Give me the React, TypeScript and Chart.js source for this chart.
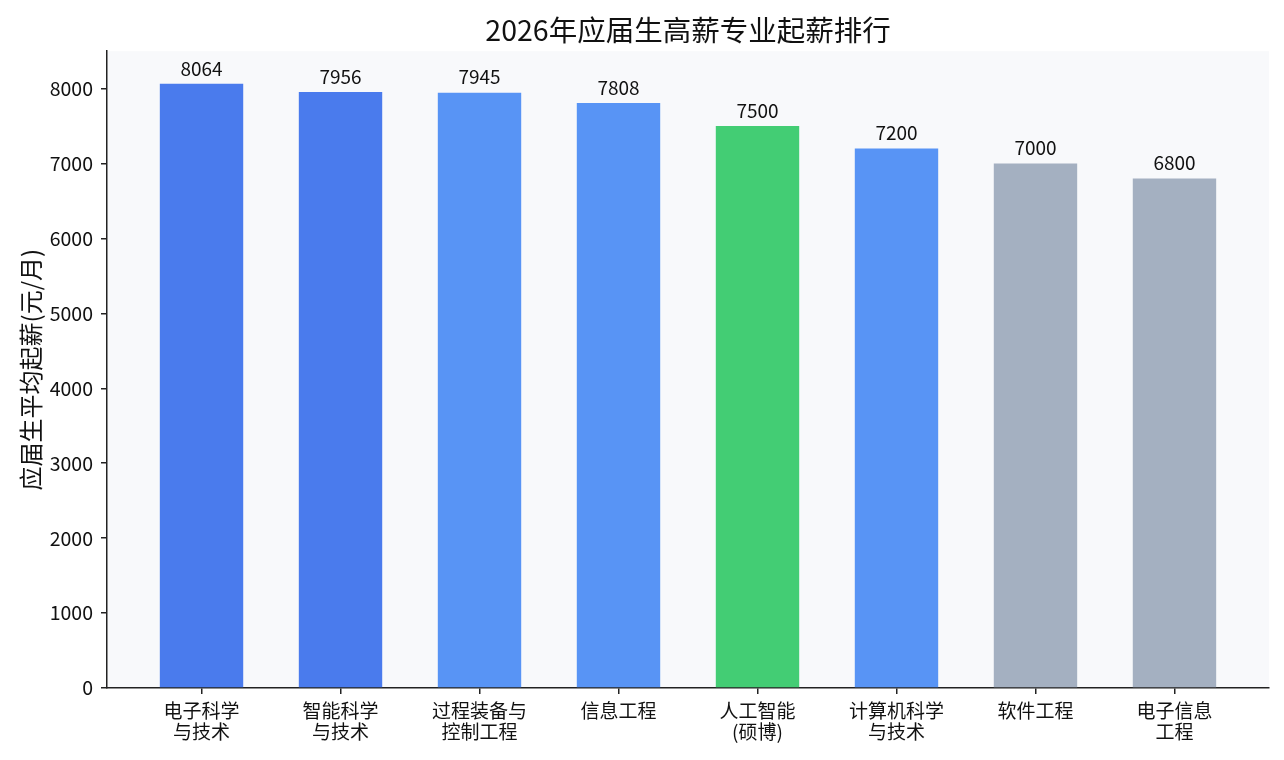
import React, { useEffect, useRef } from "react";
import { Chart, registerables } from "chart.js";

Chart.register(...registerables);

const categories: string[][] = [
  ["电子科学", "与技术"],
  ["智能科学", "与技术"],
  ["过程装备与", "控制工程"],
  ["信息工程"],
  ["人工智能", "(硕博)"],
  ["计算机科学", "与技术"],
  ["软件工程"],
  ["电子信息", "工程"],
];
const salaries: number[] = [8064, 7956, 7945, 7808, 7500, 7200, 7000, 6800];
const barColors: string[] = [
  "#4a7bed",
  "#4a7bed",
  "#5894f5",
  "#5894f5",
  "#43cd74",
  "#5894f5",
  "#a4b0c1",
  "#a4b0c1",
];
const yTicks: number[] = [0, 1000, 2000, 3000, 4000, 5000, 6000, 7000, 8000];

const FONT = "'Noto Sans CJK SC', 'Noto Sans', sans-serif";

export default function App() {
  const ref = useRef<HTMLCanvasElement | null>(null);

  useEffect(() => {
    if (!ref.current) return;
    const bgPlugin = {
      id: "plotBg",
      beforeDraw(chart: any) {
        const { ctx, chartArea } = chart;
        ctx.save();
        ctx.fillStyle = "#f8f9fb";
        ctx.fillRect(chartArea.left, chartArea.top, chartArea.right - chartArea.left, chartArea.bottom - chartArea.top);
        ctx.restore();
      },
    };
    const labelPlugin = {
      id: "valueLabels",
      afterDatasetsDraw(chart: any) {
        const { ctx } = chart;
        const meta = chart.getDatasetMeta(0);
        ctx.save();
        ctx.fillStyle = "#111";
        ctx.font = `19px ${FONT}`;
        ctx.textAlign = "center";
        ctx.textBaseline = "bottom";
        meta.data.forEach((bar: any, i: number) => {
          ctx.fillText(String(salaries[i]), bar.x, bar.y - 6);
        });
        ctx.restore();
      },
    };
    const chart = new Chart(ref.current, {
      type: "bar",
      data: {
        datasets: [
          {
            data: salaries.map((v, i) => ({ x: i, y: v })),
            backgroundColor: barColors,
            borderWidth: 0,
            categoryPercentage: 1,
            barPercentage: 0.6,
          },
        ],
      },
      options: {
        animation: false,
        responsive: false,
        layout: { padding: { left: 0, right: 15, top: 0, bottom: 0 } },
        plugins: {
          legend: { display: false },
          tooltip: { enabled: false },
          title: {
            display: true,
            fullSize: false,
            text: "2026年应届生高薪专业起薪排行",
            color: "#111",
            font: { family: FONT, size: 28.5, weight: "normal", lineHeight: 1.2 },
            padding: { top: 13, bottom: 4 },
          },
        },
        scales: {
          x: {
            type: "linear",
            min: -0.68,
            max: 7.68,
            offset: false,
            afterBuildTicks(scale: any) {
              scale.ticks = categories.map((_, i) => ({ value: i }));
            },
            afterFit(scale: any) {
              scale.height = 72;
            },
            ticks: {
              autoSkip: false,
              maxRotation: 0,
              color: "#111",
              padding: 6,
              font: { family: FONT, size: 19, lineHeight: 1.13 },
              callback: (v: any) => categories[Math.round(Number(v))] ?? "",
            },
            grid: {
              display: true,
              offset: false,
              drawOnChartArea: false,
              drawTicks: true,
              tickLength: 6,
              color: "#222",
              lineWidth: 1.5,
            },
            border: { display: true, color: "#222", width: 1.5 },
          },
          y: {
            min: 0,
            max: 8500,
            afterBuildTicks(scale: any) {
              scale.ticks = yTicks.map((v) => ({ value: v }));
            },
            afterFit(scale: any) {
              scale.width = 107;
            },
            ticks: {
              color: "#111",
              padding: 8,
              font: { family: FONT, size: 19.5 },
              callback: (v: any) => String(v),
            },
            grid: {
              display: true,
              drawOnChartArea: false,
              drawTicks: true,
              tickLength: 6,
              color: "#222",
              lineWidth: 1.5,
            },
            border: { display: true, color: "#222", width: 1.5 },
            title: {
              display: true,
              text: "应届生平均起薪(元/月)",
              color: "#111",
              font: { family: FONT, size: 24 },
              padding: { top: 16, bottom: 0 },
            },
          },
        },
      },
      plugins: [bgPlugin, labelPlugin],
    });
    return () => chart.destroy();
  }, []);

  return (
    <div style={{ position: "fixed", left: 0, top: 0, width: 1284, height: 760, background: "#fff" }}>
      <canvas ref={ref} width={1284} height={760} style={{ width: 1284, height: 760 }} />
    </div>
  );
}
